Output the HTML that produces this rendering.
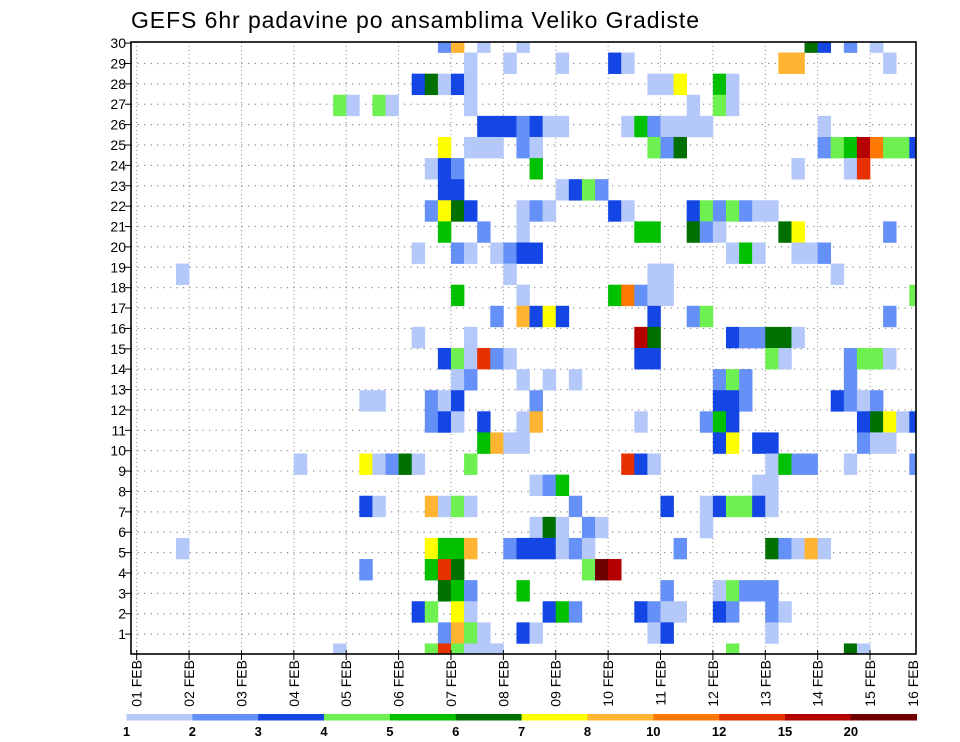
<!DOCTYPE html>
<html><head><meta charset="utf-8"><style>
html,body{margin:0;padding:0;background:#fff;}
svg{display:block;font-family:"Liberation Sans",sans-serif;}
</style></head><body>
<svg id="chart" width="960" height="742" viewBox="0 0 960 742" xmlns="http://www.w3.org/2000/svg">
<text x="131" y="28" font-size="23" textLength="568" fill="#000">GEFS 6hr padavine po ansamblima Veliko Gradiste</text>
<defs><clipPath id="plotclip"><rect x="131" y="42" width="785" height="612"/></clipPath></defs>
<g id="grid"></g>
<g id="cells" clip-path="url(#plotclip)"></g>
<rect x="131" y="42" width="785" height="612" fill="none" stroke="#000" stroke-width="1.6"/>
<g id="axes"></g>
<g id="legend"></g>
</svg>
<script>
// Ensemble members (rows, 0..29), 6h steps (columns, 0..60), precipitation values
const cellMember = [
29,29,29,29,29,29,29,29,
28,28,28,28,28,28,28,28,
27,27,27,27,27,27,27,27,27,27,
26,26,26,26,26,26,26,26,
25,25,25,25,25,25,25,25,25,25,25,25,25,25,25,
24,24,24,24,24,24,24,24,24,24,24,24,24,24,24,24,24,
23,23,23,23,23,23,23,
22,22,22,22,22,22,
21,21,21,21,21,21,21,21,21,21,21,21,21,21,21,21,
20,20,20,20,20,20,20,20,20,20,20,
19,19,19,19,19,19,19,19,19,19,19,19,19,
18,18,18,18,18,
17,17,17,17,17,17,17,17,
16,16,16,16,16,16,16,16,16,
15,15,15,15,15,15,15,15,15,15,
14,14,14,14,14,14,14,14,14,14,14,14,14,14,
13,13,13,13,13,13,13,13,13,
12,12,12,12,12,12,12,12,12,12,12,12,12,
11,11,11,11,11,11,11,11,11,11,11,11,11,11,11,
10,10,10,10,10,10,10,10,10,10,10,
9,9,9,9,9,9,9,9,9,9,9,9,9,9,9,9,
8,8,8,8,8,
7,7,7,7,7,7,7,7,7,7,7,7,7,7,
6,6,6,6,6,6,
5,5,5,5,5,5,5,5,5,5,5,5,5,5,5,5,5,5,
4,4,4,4,4,4,4,
3,3,3,3,3,3,3,3,3,3,
2,2,2,2,2,2,2,2,2,2,2,2,2,2,2,
1,1,1,1,1,1,1,1,1,
0,0,0,0,0,0,0,0,0,0
];
const cellStep = [
24,25,27,30,52,53,55,57,
26,29,33,37,38,50,51,58,
22,23,24,25,26,40,41,42,45,46,
16,17,19,20,26,43,45,46,
27,28,29,30,31,32,33,38,39,40,41,42,43,44,53,
24,26,27,28,30,31,40,41,42,53,54,55,56,57,58,59,60,
23,24,25,31,51,55,56,
24,25,33,34,35,36,
23,24,25,26,30,31,32,37,38,43,44,45,46,47,48,49,
24,27,30,39,40,43,44,45,50,51,58,
22,25,26,28,29,30,31,46,47,48,51,52,53,
4,29,40,41,54,
25,30,37,38,39,40,41,60,
28,30,31,32,33,40,43,44,58,
22,26,39,40,46,47,48,49,50,51,
24,25,26,27,28,29,39,40,49,50,55,56,57,58,
25,26,30,32,34,45,46,47,55,
18,19,23,24,25,31,45,46,47,54,55,56,57,
23,24,25,27,30,31,39,44,45,46,56,57,58,59,60,
27,28,29,30,45,46,48,49,56,57,58,
13,18,19,20,21,22,26,38,39,40,49,50,51,52,55,60,
31,32,33,48,49,
18,19,23,24,25,26,34,41,44,45,46,47,48,49,
31,32,33,35,36,44,
4,23,24,25,26,29,30,31,32,33,34,35,42,49,50,51,52,53,
18,23,24,25,35,36,37,
24,25,26,30,41,45,46,47,48,49,
22,23,25,26,32,33,34,39,40,41,42,45,46,49,50,
24,25,26,27,30,31,40,41,49,
16,23,24,25,26,27,28,46,55,56
];
const cellValue = [
2.5,9,1.5,1.5,6.5,3.5,2.5,1.5,
1.5,1.5,1.5,3.5,1.5,9,9,1.5,
3.5,6.5,1.5,3.5,1.5,1.5,1.5,7.5,5.5,1.5,
4.5,1.5,4.5,1.5,1.5,1.5,4.5,1.5,
3.5,3.5,3.5,2.5,3.5,1.5,1.5,1.5,5.5,2.5,1.5,1.5,1.5,1.5,1.5,
7.5,1.5,1.5,1.5,2.5,1.5,4.5,2.5,6.5,2.5,4.5,5.5,17,11,4.5,4.5,3.5,
1.5,3.5,2.5,5.5,1.5,1.5,13,
3.5,3.5,1.5,3.5,4.5,2.5,
2.5,7.5,6.5,3.5,1.5,2.5,1.5,3.5,1.5,3.5,4.5,2.5,4.5,2.5,1.5,1.5,
5.5,2.5,1.5,5.5,5.5,6.5,2.5,1.5,6.5,7.5,2.5,
1.5,2.5,1.5,1.5,2.5,3.5,3.5,1.5,5.5,1.5,1.5,1.5,2.5,
1.5,1.5,1.5,1.5,1.5,
5.5,1.5,5.5,11,2.5,1.5,1.5,4.5,
2.5,9,3.5,7.5,3.5,3.5,2.5,4.5,2.5,
1.5,1.5,17,6.5,3.5,2.5,2.5,6.5,6.5,1.5,
3.5,4.5,1.5,13,2.5,1.5,3.5,3.5,4.5,1.5,2.5,4.5,4.5,1.5,
1.5,2.5,1.5,1.5,1.5,2.5,4.5,2.5,2.5,
1.5,1.5,2.5,1.5,3.5,2.5,3.5,3.5,2.5,3.5,2.5,1.5,2.5,
2.5,3.5,1.5,3.5,1.5,9,1.5,2.5,5.5,3.5,3.5,6.5,7.5,1.5,3.5,
5.5,9,1.5,1.5,3.5,7.5,3.5,3.5,2.5,1.5,1.5,
1.5,7.5,1.5,2.5,6.5,1.5,4.5,13,3.5,1.5,1.5,5.5,2.5,2.5,1.5,2.5,
1.5,2.5,5.5,1.5,1.5,
3.5,1.5,9,1.5,4.5,1.5,2.5,3.5,1.5,3.5,4.5,4.5,3.5,1.5,
1.5,6.5,1.5,2.5,1.5,1.5,
1.5,7.5,5.5,5.5,9,2.5,3.5,3.5,3.5,1.5,2.5,1.5,2.5,6.5,2.5,1.5,9,1.5,
2.5,5.5,13,6.5,4.5,22,17,
6.5,5.5,2.5,5.5,2.5,1.5,4.5,2.5,2.5,2.5,
3.5,4.5,7.5,1.5,3.5,5.5,2.5,3.5,2.5,1.5,1.5,3.5,2.5,2.5,1.5,
2.5,9,4.5,1.5,3.5,1.5,1.5,3.5,1.5,
1.5,4.5,13,4.5,1.5,1.5,1.5,4.5,6.5,1.5
];
const levelBounds = [1,2,3,4,5,6,7,8,10,12,15,20];
const levelLabels = ["1","2","3","4","5","6","7","8","10","12","15","20"];
const levelColors = ["#b4c8fa","#6490f8","#1446e6","#6ef050","#00c000","#007000","#ffff00","#ffb432","#ff7800","#e63200","#b40000","#700000"];
const dayLabels = ["01 FEB","02 FEB","03 FEB","04 FEB","05 FEB","06 FEB","07 FEB","08 FEB","09 FEB","10 FEB","11 FEB","12 FEB","13 FEB","14 FEB","15 FEB","16 FEB"];
const yTicks = [1,2,3,4,5,6,7,8,9,10,11,12,13,14,15,16,17,18,19,20,21,22,23,24,25,26,27,28,29,30];

const NS = "http://www.w3.org/2000/svg";
const PL = 131, PR = 916, PT = 42, PB = 654;
const X0 = 136.7, DAY = 52.38, STEP = DAY / 4;
const ROWH = (PB - PT) / 29;
function xStep(i) { return X0 + STEP * i; }          // right edge of 6h cell
function yMember(j) { return PB - ROWH * j; }        // center of member row
function yTick(k) { return 654.5 - 20.38 * k; }
function colorFor(v) {
  let idx = 0;
  for (let l = 0; l < levelBounds.length; l++) if (v >= levelBounds[l]) idx = l;
  return levelColors[idx];
}
function mk(tag, attrs, parent) {
  const e = document.createElementNS(NS, tag);
  for (const k in attrs) e.setAttribute(k, attrs[k]);
  parent.appendChild(e);
  return e;
}
const grid = document.getElementById('grid');
const cells = document.getElementById('cells');
const axes = document.getElementById('axes');
const legend = document.getElementById('legend');

// grid
for (let d = 0; d < 15; d++) {
  const l = mk('line', {x1: X0 + DAY * d, x2: X0 + DAY * d, y1: PT, y2: PB, stroke: '#8a8a8a', 'stroke-width': 1, 'stroke-dasharray': '1 3'}, grid);
  
  
}
for (const k of yTicks) {
  if (k >= 30) continue;
  const l = mk('line', {x1: PL, x2: PR, y1: yTick(k), y2: yTick(k), stroke: '#8a8a8a', 'stroke-width': 1.2, 'stroke-dasharray': '1.2 5.3'}, grid);
  
  
}

// cells
for (let n = 0; n < cellValue.length; n++) {
  const x = xStep(cellStep[n]) - STEP;
  const y = yMember(cellMember[n]) - ROWH / 2;
  const r = mk('rect', {x: x, y: y, width: STEP + 0.3, height: ROWH + 0.3, fill: colorFor(cellValue[n])}, cells);
  
  
}

// y axis
for (const k of yTicks) {
  const y = yTick(k);
  mk('line', {x1: PL - 6, x2: PL, y1: y, y2: y, stroke: '#000', 'stroke-width': 1}, axes);
  const t = mk('text', {x: PL - 5, y: y + 5, 'font-size': 14, 'text-anchor': 'end', fill: '#000'}, axes);
  t.textContent = String(k);
  
  
}
// x axis
for (let d = 0; d < dayLabels.length; d++) {
  let x = X0 + DAY * d;
  if (d < 15) mk('line', {x1: x, x2: x, y1: PB - 4, y2: PB + 6, stroke: '#000', 'stroke-width': 1}, axes);
  if (x > 913) x = 913;
  const t = mk('text', {transform: 'translate(' + (x + 5) + ',660) rotate(-90)', 'font-size': 14, 'text-anchor': 'end', fill: '#000'}, axes);
  t.textContent = dayLabels[d];
  
  
}

// colorbar
const CB0 = 126.5, CBW = 65.85;
for (let l = 0; l < levelColors.length; l++) {
  const r = mk('rect', {x: CB0 + CBW * l, y: 714, width: CBW + 0.3, height: 6.5, fill: levelColors[l]}, legend);
  
  
  const t = mk('text', {x: CB0 + CBW * l, y: 736, 'font-size': 13, 'font-weight': 'bold', 'text-anchor': 'middle', fill: '#000'}, legend);
  t.textContent = levelLabels[l];
  
  
}
</script>
</body></html>
